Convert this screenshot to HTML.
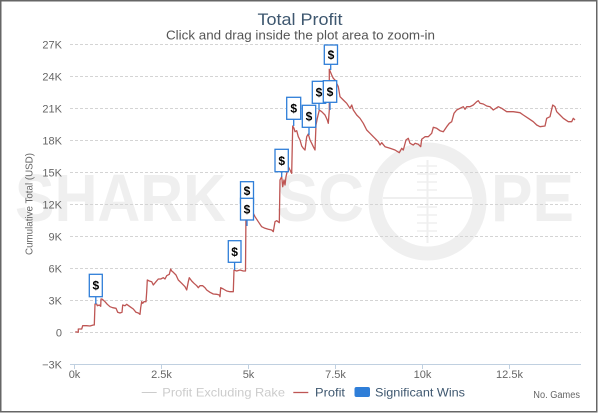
<!DOCTYPE html>
<html><head><meta charset="utf-8"><style>
html,body{margin:0;padding:0;background:#fff;}
svg{display:block;font-family:"Liberation Sans","DejaVu Sans",sans-serif;}
</style></head><body>
<svg width="600" height="414" viewBox="0 0 600 414" xmlns="http://www.w3.org/2000/svg">
<rect x="0" y="0" width="600" height="414" fill="#fff"/>
<rect x="0.75" y="0.75" width="596" height="411" fill="#fff" stroke="#666" stroke-width="1.5"/>

<!-- watermark -->
<g fill="#efefef" font-weight="bold" font-size="67">
<text x="15" y="221" textLength="211" lengthAdjust="spacingAndGlyphs">SHARK</text>
<text x="276" y="221" textLength="88" lengthAdjust="spacingAndGlyphs">SC</text>
<text x="491" y="221" textLength="83" lengthAdjust="spacingAndGlyphs">PE</text>
</g>
<g stroke="#efefef" fill="none">
<circle cx="427.5" cy="201.5" r="52" stroke-width="14"/>
<line x1="427.5" y1="160" x2="427.5" y2="243" stroke-width="2"/>
<line x1="383" y1="198" x2="472" y2="198" stroke-width="2"/>
<g stroke-width="1.5">
<line x1="417" y1="166" x2="437" y2="166"/>
<line x1="417" y1="174" x2="437" y2="174"/>
<line x1="417" y1="182" x2="437" y2="182"/>
<line x1="417" y1="190" x2="437" y2="190"/>
<line x1="417" y1="207" x2="437" y2="207"/>
<line x1="417" y1="215" x2="437" y2="215"/>
<line x1="417" y1="223" x2="437" y2="223"/>
<line x1="417" y1="231" x2="437" y2="231"/>
</g>
</g>

<!-- title -->
<text x="300" y="25" text-anchor="middle" font-size="17" fill="#3E576F" textLength="85" lengthAdjust="spacingAndGlyphs">Total Profit</text>
<text x="300.5" y="39.5" text-anchor="middle" font-size="12.5" fill="#555" textLength="269" lengthAdjust="spacingAndGlyphs">Click and drag inside the plot area to zoom-in</text>

<!-- grid -->
<g stroke="#d4d4d4" stroke-width="1" stroke-dasharray="3,2">
<line x1="70" y1="44.5" x2="581" y2="44.5"/>
<line x1="70" y1="76.5" x2="581" y2="76.5"/>
<line x1="70" y1="108.5" x2="581" y2="108.5"/>
<line x1="70" y1="140.5" x2="581" y2="140.5"/>
<line x1="70" y1="172.5" x2="581" y2="172.5"/>
<line x1="70" y1="204.5" x2="581" y2="204.5"/>
<line x1="70" y1="236.5" x2="581" y2="236.5"/>
<line x1="70" y1="268.5" x2="581" y2="268.5"/>
<line x1="70" y1="300.5" x2="581" y2="300.5"/>
<line x1="70" y1="332.5" x2="581" y2="332.5"/>
</g>
<line x1="70" y1="364.5" x2="581" y2="364.5" stroke="#C0D0E0" stroke-width="1"/>
<g stroke="#C0D0E0" stroke-width="1">
<line x1="74.5" y1="364" x2="74.5" y2="369"/>
<line x1="161.5" y1="364" x2="161.5" y2="369"/>
<line x1="248.5" y1="364" x2="248.5" y2="369"/>
<line x1="335.5" y1="364" x2="335.5" y2="369"/>
<line x1="422.5" y1="364" x2="422.5" y2="369"/>
<line x1="509.5" y1="364" x2="509.5" y2="369"/>
</g>

<!-- y labels -->
<g font-size="11" fill="#666" text-anchor="end">
<text x="62" y="48.5">27K</text>
<text x="62" y="80.5">24K</text>
<text x="62" y="112.5">21K</text>
<text x="62" y="144.5">18K</text>
<text x="62" y="176.5">15K</text>
<text x="62" y="208.5">12K</text>
<text x="62" y="240.5">9K</text>
<text x="62" y="272.5">6K</text>
<text x="62" y="304.5">3K</text>
<text x="62" y="336.5">0</text>
<text x="62" y="368.5">−3K</text>
</g>
<!-- x labels -->
<g font-size="11" fill="#666" text-anchor="middle">
<text x="74.5" y="378">0k</text>
<text x="161.5" y="378">2.5k</text>
<text x="248.5" y="378">5k</text>
<text x="335.5" y="378">7.5k</text>
<text x="422.5" y="378">10k</text>
<text x="509.5" y="378">12.5k</text>
</g>
<text transform="translate(32.5,204) rotate(-90)" text-anchor="middle" font-size="10" fill="#666" textLength="102" lengthAdjust="spacingAndGlyphs">Cumulative Total (USD)</text>

<!-- series -->
<polyline fill="none" stroke="#BE5654" stroke-width="1.3" stroke-linejoin="round" points="
75.3,331.7 78.3,332.3 78.3,329 81.7,329 82.7,325.7 86.7,325.7 90,326 93.3,325 94.3,325 95,304 96.7,304 97.3,305.7 99.3,305 100.7,306.3 101,299 102,299 105,301.7 107.3,304.3 110,306.7 112.7,307.7 116,308.3 117.7,312.3 120,313 122,312.3 122.7,305 125,305.7 126.7,304.3 130,306.7 133.3,309 136,312.3 138.3,313 140,314.3 140.7,307.7 141.7,301.7 142.7,303.3 144,301.7 146,301.7 146.7,291.7 147.3,280 149.3,281 151.7,281.7 153.3,285 156,281.7 158.3,279 160.7,279 163.3,277.7 165,279 166.7,275.7 169.3,274.3 170.7,269 171.7,271 173.3,272.3 176,275 178.3,280 181.7,283.3 185,286.7 186.7,290 188.3,281.7 189.3,277.7 191.7,281 194,283.3 196.7,285.7 198.3,287.7 200,285.7 202.7,285.7 205,287.7 206.7,290 210,292.3 213.3,294 216.7,294.3 219.3,295 220,296.7 220.7,287.7 223.3,289 226.7,291 230,291.7 233.3,291.7 234,270 236.7,271 240,270 243.3,271 245.5,271 246,210 250,211 253.3,213.3 255,216.7 258.3,221.7 261.7,226.7 265,228.3 268.3,229.3 271.7,230 273.3,231.7 275,221.7 276.7,220.7 279.3,222.7 280,180 281.7,176.7 282.7,186.7 284,180 285,185 286,176.7 288.3,166.7 290,170 291.7,173.3 292.7,126 294,128.3 295,131.7 296.7,130.7 298.3,136.7 300,140 301.7,146 303.3,148.3 305,150 306.7,136.7 308.3,134 310,140 311.7,143.3 313.3,146.7 315,150 316,125 317.3,118.3 319.3,110 321.7,111.7 325,115 327.3,120 328.3,123.3 329.3,110 329.3,69.3 331.7,75 333.3,78.3 335,80 338.3,86.7 340,96.7 343.3,100 346.7,103.3 350,108.3 351.7,105 353.3,110 356.7,115 360,118.3 363.3,123.3 366.7,130 370,133.3 373.3,136.7 378.3,141.7 380,145 381.7,142.7 385,146.7 390,148.3 395,150 399.3,152.7 401.7,148.3 403.3,150 406,140 408.3,138.3 410,143.3 413.3,145 415,143.3 418.3,144.3 420.7,146.7 421.7,139.3 425,136.7 428.3,136.7 431.7,133.3 433.3,127.3 436.7,128.3 440,130.7 443.3,131.7 446.7,126.7 449.3,123.3 451.7,121.7 454,113.3 456.7,110 460,108.3 463.3,106.7 465,109.3 466.7,106.7 470,106.7 473.3,105 476.7,101.7 478.3,100.7 480,103.3 483.3,104 486.7,106 490,106.7 493.3,110 498.3,106.7 501.7,108.3 506.7,111.7 513.3,111.7 520,112.7 523.3,115 528.3,118.3 533.3,121.7 536.7,125 540,126.7 545,126 546.7,118.3 550,116.7 552.7,105 555,106.7 556.7,111.7 560,115 563.3,118.3 568.3,121.7 571.7,121.7 573.3,118.3 575,120"/>

<!-- flags -->
<g stroke="#2F7ED8" stroke-width="1.3">
<line x1="95.8" y1="296.7" x2="95.8" y2="304"/>
<line x1="234.6" y1="262.3" x2="234.6" y2="270"/>
<line x1="247" y1="220" x2="247" y2="226"/>
<line x1="281.7" y1="171.7" x2="281.7" y2="177"/>
<line x1="293.7" y1="119.3" x2="293.7" y2="126"/>
<line x1="309" y1="127.3" x2="309" y2="135"/>
<line x1="319" y1="103.3" x2="319" y2="110"/>
<line x1="330" y1="102.3" x2="330" y2="110"/>
<line x1="330.7" y1="64.3" x2="330.7" y2="70"/>
</g>
<g stroke="#2F7ED8" stroke-width="1.3" fill="#fff">
<rect x="89.3" y="274.3" width="13" height="22.4"/>
<rect x="228.3" y="240.7" width="12.7" height="21.6"/>
<rect x="240.5" y="181.7" width="13" height="21.6"/>
<rect x="240.5" y="198.3" width="13" height="21.7"/>
<rect x="275" y="149.3" width="13.3" height="22.4"/>
<rect x="286.7" y="97.3" width="14" height="22"/>
<rect x="302.3" y="105.3" width="13.4" height="22"/>
<rect x="312.3" y="81.3" width="13.4" height="22"/>
<rect x="323.3" y="80.7" width="13.4" height="21.6"/>
<rect x="324.3" y="45" width="13.2" height="19.3"/>
</g>
<g font-size="12" font-weight="bold" fill="#000" text-anchor="middle">
<text x="95.8" y="289.5">$</text>
<text x="234.6" y="256">$</text>
<text x="247" y="195">$</text>
<text x="247" y="213.5">$</text>
<text x="281.7" y="165">$</text>
<text x="293.7" y="112.5">$</text>
<text x="309" y="120.5">$</text>
<text x="319" y="96.5">$</text>
<text x="330" y="96">$</text>
<text x="331" y="59">$</text>
</g>

<!-- legend -->
<line x1="141.7" y1="392.5" x2="156.7" y2="392.5" stroke="#ccc" stroke-width="1"/>
<text x="162.3" y="396.3" font-size="12" fill="#ccc" textLength="122.7" lengthAdjust="spacingAndGlyphs">Profit Excluding Rake</text>
<line x1="293.3" y1="392.5" x2="308.3" y2="392.5" stroke="#BE5654" stroke-width="1.3"/>
<text x="315" y="396.3" font-size="12" fill="#3E576F" textLength="30" lengthAdjust="spacingAndGlyphs">Profit</text>
<rect x="354.5" y="387" width="15.5" height="10" rx="2" fill="#2F7ED8"/>
<text x="375" y="396.3" font-size="12" fill="#3E576F" textLength="90" lengthAdjust="spacingAndGlyphs">Significant Wins</text>
<text x="533.3" y="398" font-size="10" fill="#666" textLength="46.7" lengthAdjust="spacingAndGlyphs">No. Games</text>
</svg>
</body></html>
